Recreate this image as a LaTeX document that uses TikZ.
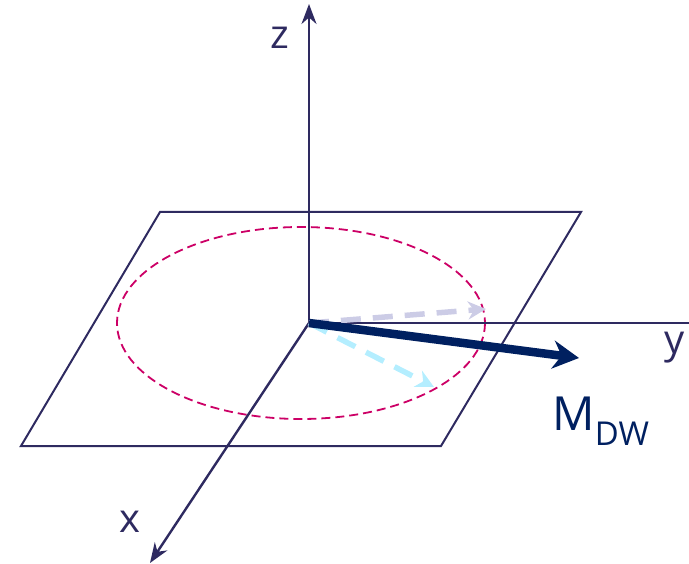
\documentclass[tikz,border=0pt]{standalone}
\usepackage{fontspec}
\setmainfont{Open Sans}
\usetikzlibrary{arrows.meta}
\definecolor{axcol}{RGB}{46,42,96}
\definecolor{ellcol}{RGB}{204,0,102}
\definecolor{navy}{RGB}{0,32,96}
\definecolor{lav}{RGB}{204,204,230}
\definecolor{cyanl}{RGB}{180,238,255}
\tikzset{
  axis/.style={draw=axcol, line width=2.4pt},
  axlabel/.style={text=axcol, font=\fontsize{40}{46}\selectfont, inner sep=0pt},
  dasharrow/.style={line width=5.5pt, dash pattern=on 20pt off 12pt, -{Stealth[length=18pt,width=18pt]}},
}
\begin{document}
\begin{tikzpicture}[x=1pt,y=-1pt]
\useasboundingbox (0,0) rectangle (689,564);
\coordinate (O) at (309,323);
\coordinate (Z) at (309,4);
\coordinate (Y) at (689,323);
\coordinate (X) at (150,563);
\coordinate (P1) at (160,212);
\coordinate (P2) at (581,212);
\coordinate (P3) at (441,446);
\coordinate (P4) at (21,446);
\draw[draw=axcol, line width=2pt] (P1) -- (P2) -- (P3) -- (P4) -- cycle;
\draw[draw=ellcol, line width=1.8pt, dash pattern=on 9pt off 5pt] (301,323) ellipse [x radius=184, y radius=96];
\draw[axis, -{Stealth[length=20pt,width=15pt]}] (O) -- (Z);
\draw[axis] (O) -- (Y);
\draw[axis, -{Stealth[length=20pt,width=15pt]}] (O) -- (X);
\coordinate (A1) at (486,309);
\coordinate (A2) at (434,387);
\coordinate (A3) at (579,358);
\draw[dasharrow, draw=lav, color=lav] (O) -- (A1);
\draw[dasharrow, draw=cyanl, color=cyanl] (O) -- (A2);
\draw[draw=navy, line width=8.5pt, -{Stealth[length=26pt,width=28pt]}] (O) -- (A3);
\node[axlabel] (zl) at (280,38) {z};
\node[axlabel] (yl) at (675,348) {y};
\node[axlabel] (xl) at (130,522) {x};
\node[text=navy, inner sep=0pt, font=\fontsize{47}{53}\selectfont] (ml) at (601,421) {M\textsubscript{DW}};
\end{tikzpicture}
\end{document}
